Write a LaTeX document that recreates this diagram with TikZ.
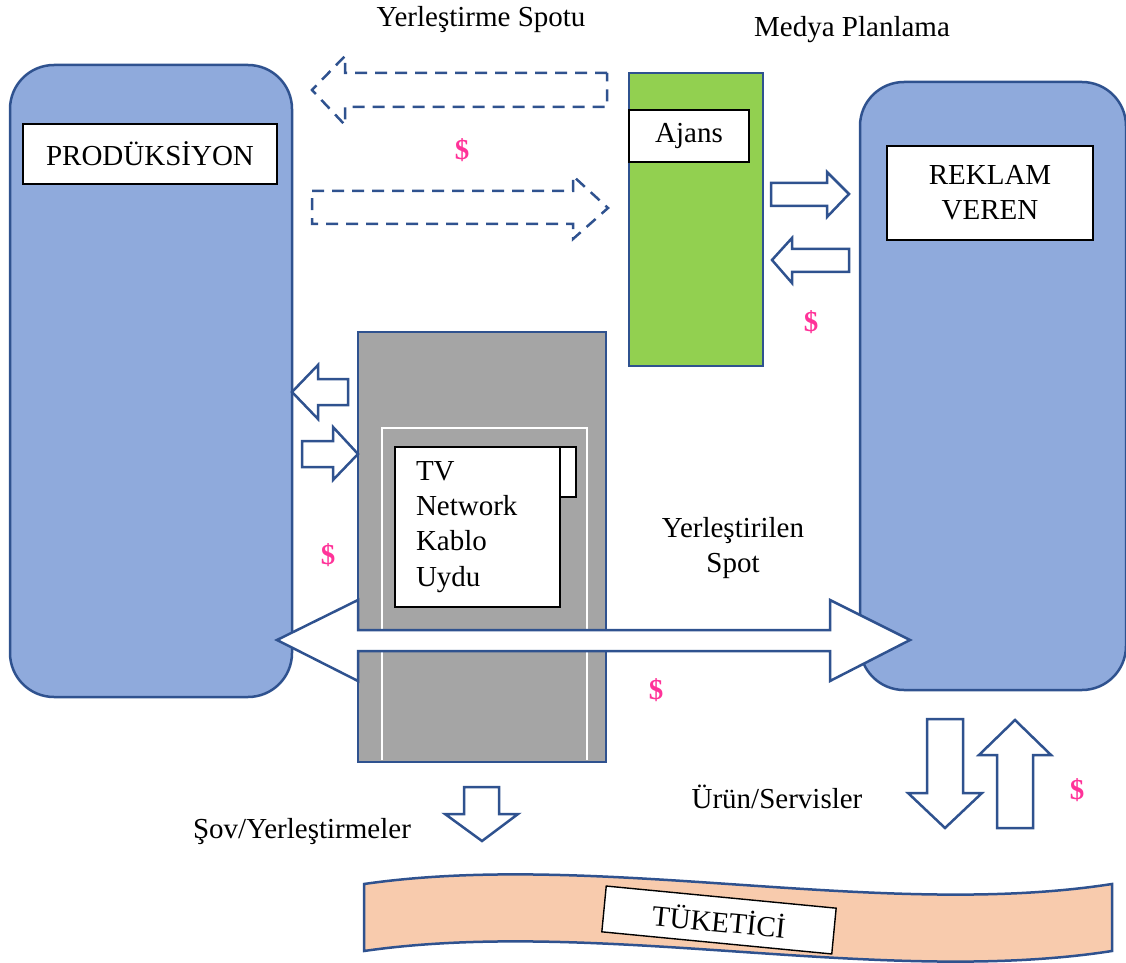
\documentclass[tikz,border=0pt]{standalone}
\usepackage{fontspec}
\setmainfont{Liberation Serif}
\newcommand\myfs{\fontsize{14.5}{17.6}\selectfont}
\definecolor{bdblue}{HTML}{2F528F}
\definecolor{fillblue}{HTML}{8FAADC}
\definecolor{agreen}{HTML}{92D050}
\definecolor{tvgrey}{HTML}{A5A5A5}
\definecolor{peach}{HTML}{F8CBAD}
\definecolor{dpink}{HTML}{FF3399}
\begin{document}
\begin{tikzpicture}[x=0.5pt,y=-0.5pt,
  bigbox/.style={draw=bdblue, line width=1.25pt, fill=fillblue, rounded corners=22pt, inner sep=0pt},
  plainbox/.style={draw=bdblue, line width=1.25pt, inner sep=0pt},
  lbl/.style={draw=black, fill=white, line width=0.7pt, inner sep=0pt, font=\myfs},
  blk/.style={draw=bdblue, fill=white, line width=1.25pt, line join=miter},
  dsh/.style={draw=bdblue, line width=1.25pt, dash pattern=on 6pt off 4pt},
  money/.style={text=dpink, font=\myfs\bfseries, inner sep=0pt},
  txt/.style={font=\myfs, inner sep=0pt}]
\useasboundingbox (0,0) rectangle (1126,963);

% main boxes
\node[bigbox, minimum width=141pt, minimum height=316pt] (prod) at (151,381) {};
\node[bigbox, minimum width=133pt, minimum height=304pt] (reklam) at (993,386) {};
\node[plainbox, fill=agreen, minimum width=67pt, minimum height=146.5pt] (ajansbox) at (696,219.5) {};
\node[plainbox, fill=tvgrey, minimum width=124pt, minimum height=215pt] (tvbox) at (482,547) {};
\draw[white, line width=1pt] (382,760) -- (382,428) -- (587,428) -- (587,760);

% labels
\node[lbl, minimum width=127pt, minimum height=30pt] (prodl) at (150,154) {PRODÜKSİYON};
\node[lbl, minimum width=103pt, minimum height=47pt, align=center] (reklaml) at (990,193) {REKLAM\\VEREN};
\node[lbl, minimum width=60pt, minimum height=26pt] (ajansl) at (689,136) {Ajans};
\draw[black, fill=white, line width=0.7pt] (540,447) rectangle (576,497);
\node[lbl, text width=61.5pt, inner xsep=10.5pt, minimum height=80pt, align=left] (tvl) at (477.5,527) {TV\\Network\\Kablo\\Uydu};

% dashed arrows
\draw[dsh] (607,73) -- (345,73) -- (345,56) -- (312,90) -- (345,125) -- (345,107) -- (607,107) -- cycle;
\draw[dsh] (312,191) -- (573,191) -- (573,176) -- (608,208) -- (573,239) -- (573,224) -- (312,224) -- cycle;

% block arrows
\draw[blk] (771,183) -- (827,183) -- (827,172) -- (849,194) -- (827,217) -- (827,206) -- (771,206) -- cycle;
\draw[blk] (849,249) -- (792,249) -- (792,238) -- (772,260) -- (792,283) -- (792,272) -- (849,272) -- cycle;
\draw[blk] (348,379) -- (318,379) -- (318,365) -- (292,392) -- (318,419) -- (318,405) -- (348,405) -- cycle;
\draw[blk] (302,441) -- (333,441) -- (333,427) -- (358,454) -- (333,480) -- (333,467) -- (302,467) -- cycle;
\draw[blk] (277,640) -- (358,600) -- (358,630) -- (830,630) -- (830,600) -- (910,640) -- (830,681) -- (830,651) -- (358,651) -- (358,681) -- cycle;
\draw[blk] (464,787) -- (499,787) -- (499,814) -- (518,814) -- (482,841) -- (445,814) -- (464,814) -- cycle;
\draw[blk] (927,719) -- (963,719) -- (963,793) -- (982,793) -- (945,828) -- (908,793) -- (927,793) -- cycle;
\draw[blk] (1015,720) -- (1051,755) -- (1033,755) -- (1033,828) -- (997,828) -- (997,755) -- (979,755) -- cycle;

% banner
\draw[draw=bdblue, line width=1.25pt, fill=peach] (364,884) .. controls (600,850) and (880,920) .. (1112,884) -- (1112,951) .. controls (880,987) and (600,917) .. (364,951) -- cycle;
\node[lbl, minimum width=115.5pt, minimum height=23pt, rotate=-5.5] (tuketici) at (719,920) {TÜKETİCİ};

% texts
\node[txt] (t1) at (481,20) {Yerleştirme Spotu};
\node[txt] (t2) at (852,30) {Medya Planlama};
\node[txt, align=center] (t3) at (733,548) {Yerleştirilen\\Spot};
\node[txt] (t4) at (777,797) {Ürün/Servisler};
\node[txt] (t5) at (302,832) {Şov/Yerleştirmeler};

% dollars
\node[money] (d1) at (462,150) {\$};
\node[money] (d2) at (811,322) {\$};
\node[money] (d3) at (328,555) {\$};
\node[money] (d4) at (656,690) {\$};
\node[money] (d5) at (1077,790) {\$};
\end{tikzpicture}
\end{document}
